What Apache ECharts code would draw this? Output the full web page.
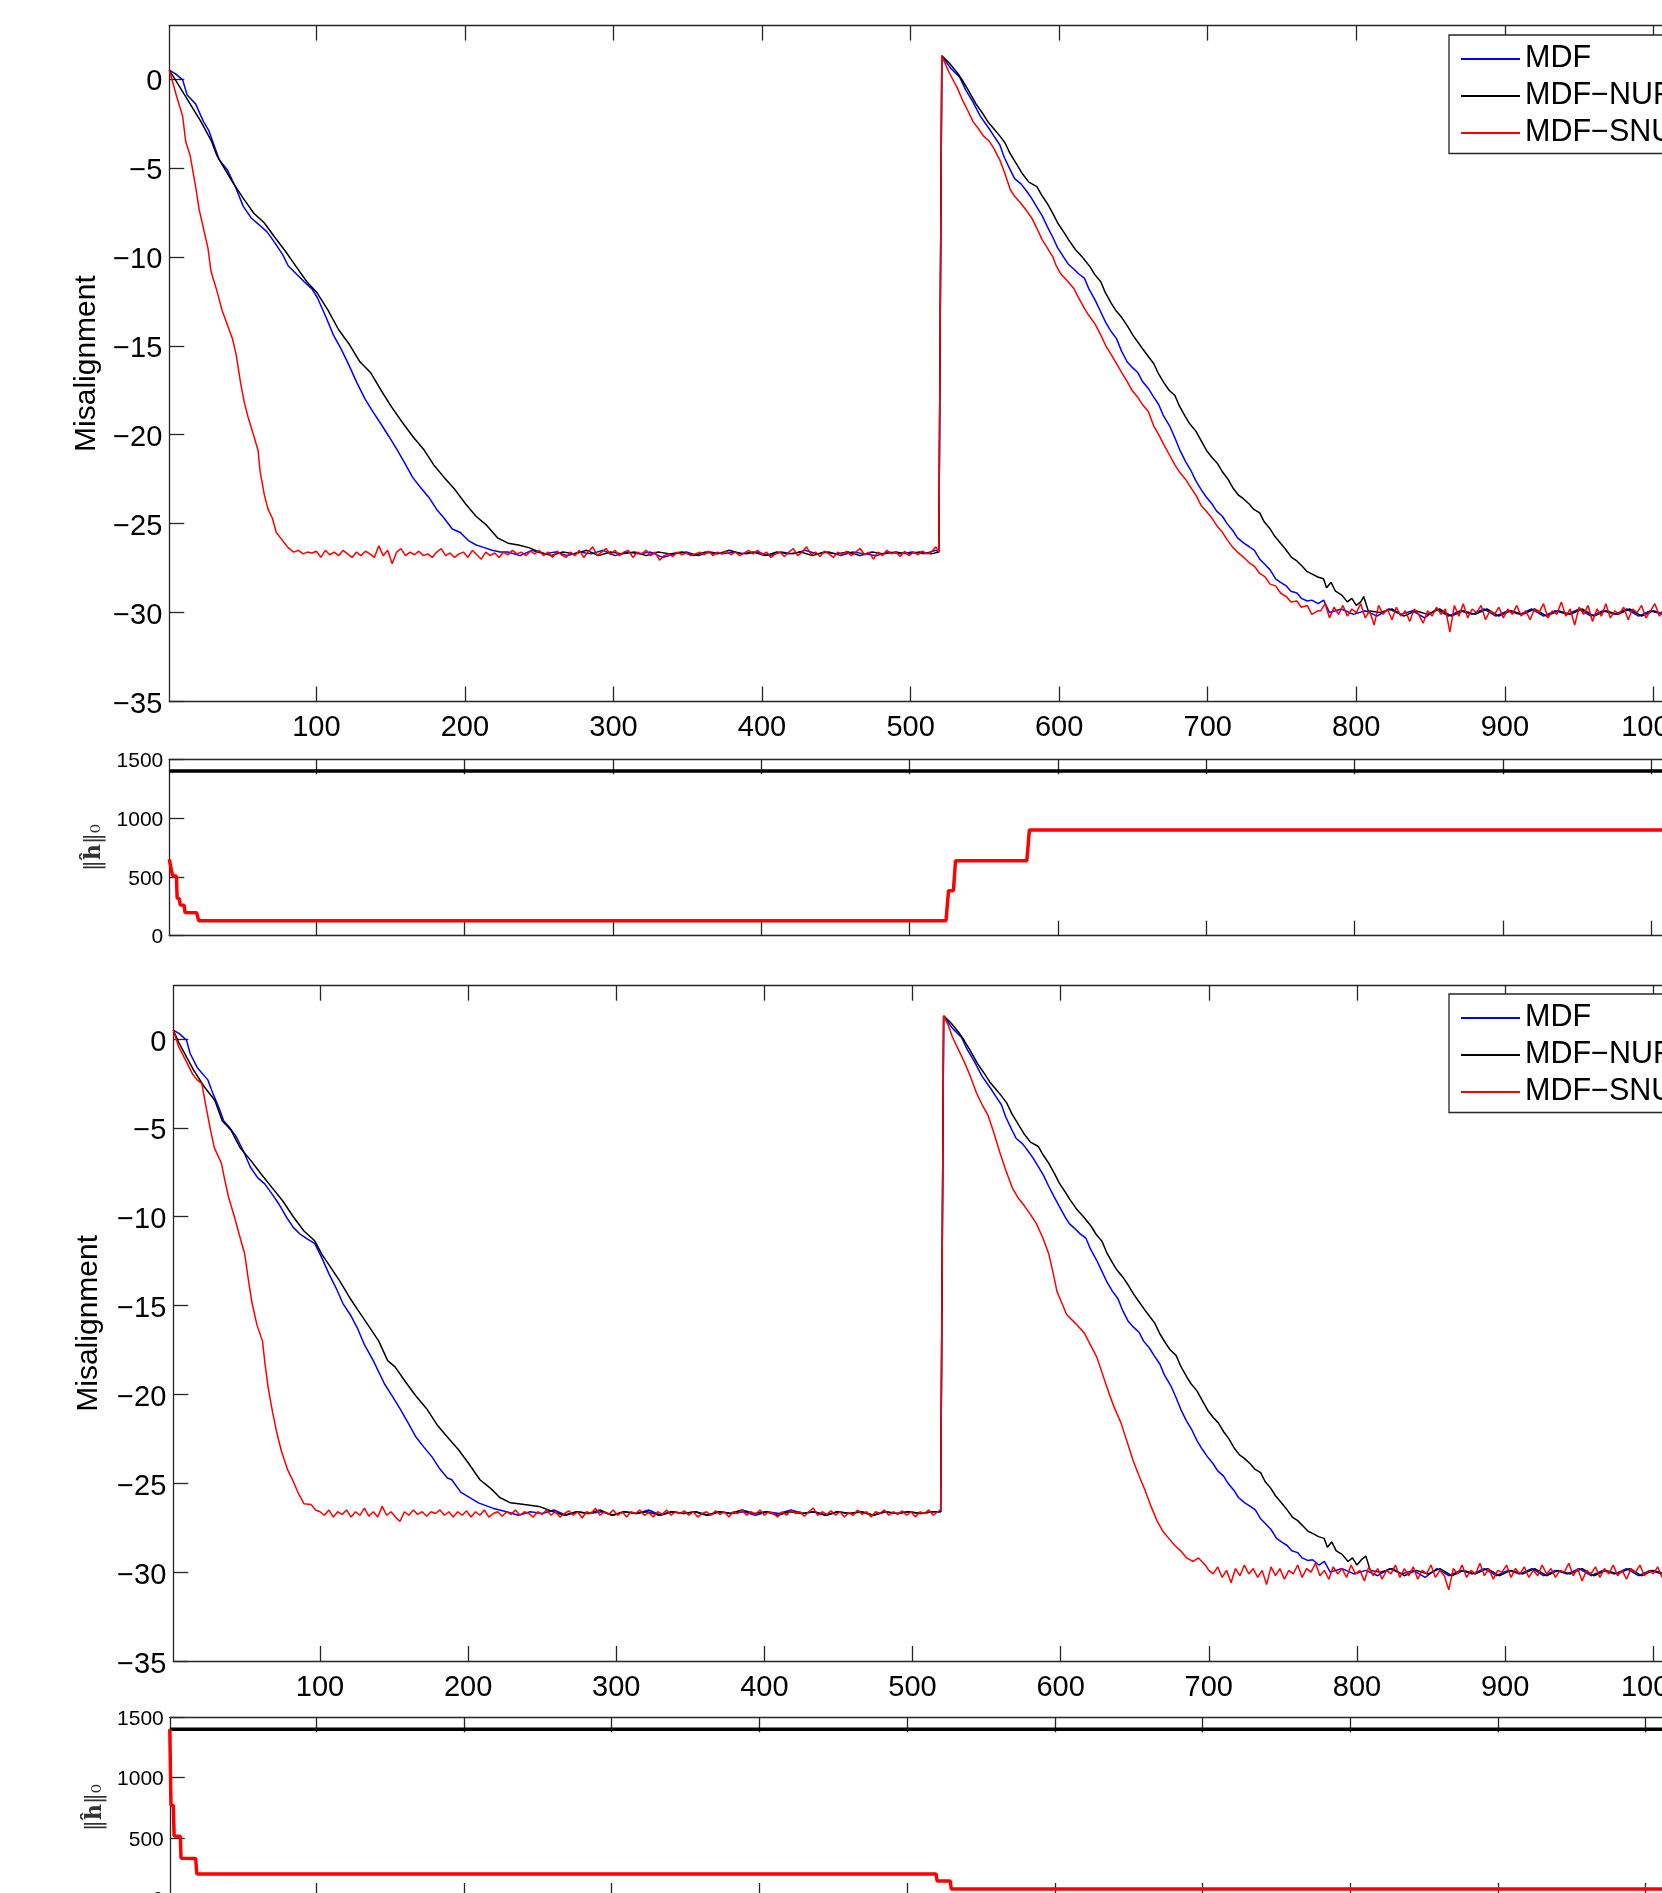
<!DOCTYPE html>
<html><head><meta charset="utf-8">
<script src="https://cdn.jsdelivr.net/npm/echarts@6/dist/echarts.min.js"></script>
<style>html,body{margin:0;padding:0;overflow:hidden;background:#fff}#c{width:1900px;height:1960px}</style>
</head><body><div id="c"></div><script>
// ---------- tick values ----------
const xTicks = [100,200,300,400,500,600,700,800,900,1000];
const misTicks = [-35,-30,-25,-20,-15,-10,-5,0];
const l0Ticks = [0,500,1000,1500];
const legendNames = ['MDF','MDF\u2212NUP','MDF\u2212SNUP'];

// ---------- panel 1 : misalignment ----------
const p1Mdf = [[1,0.5],[5,0.3],[10,-0.05],[13,-0.9],[18.7,-1.4],[24,-2.4],[27.6,-2.9],[31,-3.7],[34.7,-4.55],[40,-5.1],[45.4,-6.05],[50.7,-7.15],[56,-7.8],[61.5,-8.2],[66.8,-8.6],[72,-9.2],[77.5,-9.9],[81,-10.5],[86.4,-10.95],[91.8,-11.4],[97,-11.8],[100.7,-12.3],[106,-13.3],[111.5,-14.4],[116.8,-15.2],[122,-16.1],[127.4,-17.1],[132.8,-18.0],[138,-18.7],[143.5,-19.4],[148.8,-20.1],[154,-20.8],[159.5,-21.6],[164.8,-22.4],[170,-22.95],[175.5,-23.5],[181,-24.2],[186,-24.7],[191.5,-25.3],[196.9,-25.5],[202.3,-25.95],[207.6,-26.2],[213,-26.35],[218.3,-26.5],[223.7,-26.6],[229,-26.6],[237,-26.8],[245,-26.5],[253,-26.7],[261,-26.6],[269,-26.8],[277,-26.6],[285,-26.7],[293,-26.5],[301,-26.8],[309,-26.6],[317,-26.7],[325,-26.6],[333,-26.9],[341,-26.7],[349,-26.6],[357,-26.8],[365,-26.6],[373,-26.7],[381,-26.6],[389,-26.7],[397,-26.6],[405,-26.8],[413,-26.6],[421,-26.7],[429,-26.5],[437,-26.7],[445,-26.6],[453,-26.8],[461,-26.6],[469,-26.7],[477,-26.8],[485,-26.6],[493,-26.7],[501,-26.6],[509,-26.7],[517,-26.5],[519,-26.6],[521,1.3],[527,0.6],[533,0.1],[537,-0.6],[542,-1.3],[547,-2.1],[552.9,-2.8],[556,-3.2],[560,-3.7],[563,-4.4],[567,-5.1],[570,-5.6],[574.3,-5.9],[578,-6.3],[581.4,-6.7],[585,-7.2],[588.6,-7.7],[592,-8.3],[595.7,-8.9],[599,-9.5],[602.9,-10.0],[606,-10.4],[610,-10.7],[613,-10.95],[617,-11.2],[620,-11.8],[624.3,-12.45],[628,-13.1],[631.4,-13.7],[635,-14.2],[638.6,-14.6],[642,-15.3],[645.7,-15.9],[649,-16.2],[652.9,-16.5],[656,-17.0],[660,-17.4],[663,-17.8],[667,-18.3],[670,-18.9],[674.3,-19.5],[678,-20.2],[681.4,-20.9],[685,-21.5],[688.6,-22.0],[692,-22.6],[695.7,-23.1],[699,-23.5],[702.9,-23.9],[706,-24.3],[710,-24.6],[713,-25.0],[717,-25.4],[720,-25.8],[724.3,-26.1],[728,-26.3],[731.4,-26.5],[735,-27.0],[738.6,-27.3],[742,-27.6],[745.7,-28.1],[749,-28.3],[752.9,-28.5],[756,-28.8],[760,-28.9],[763,-29.2],[767,-29.35],[770,-29.3],[774.3,-29.5],[778,-29.3],[782,-30.0],[790,-29.8],[798,-30.1],[806,-29.9],[814,-30.2],[822,-29.8],[830,-30.1],[838,-29.9],[846,-30.3],[854,-29.8],[862,-30.2],[870,-29.9],[878,-30.1],[886,-29.8],[894,-30.2],[902,-29.9],[910,-30.1],[918,-29.8],[926,-30.2],[934,-29.9],[942,-30.1],[950,-29.8],[958,-30.2],[966,-29.9],[974,-30.1],[982,-29.8],[990,-30.2],[998,-29.9],[1006,-30.1],[1014,-29.9],[1022,-30.1],[1030,-29.9],[1038,-30.1],[1046,-30.0],[1050,-30.0]];

const p1Nup = [[1,0.5],[8,-0.45],[15,-1.4],[22.3,-2.4],[29.4,-3.5],[33,-4.3],[36.5,-4.8],[43.6,-5.8],[50.7,-6.7],[57.9,-7.55],[65,-8.1],[72,-8.9],[79.3,-9.7],[86.4,-10.55],[93.6,-11.4],[100.7,-12.05],[107.8,-13.0],[115,-14.1],[122,-14.9],[129.3,-15.9],[136.4,-16.5],[143.5,-17.5],[150.7,-18.45],[157.8,-19.3],[164.9,-20.1],[172,-20.8],[179,-21.7],[186,-22.4],[193.4,-23.1],[200.5,-23.9],[207.6,-24.6],[214.7,-25.1],[221.9,-25.8],[229,-26.1],[236,-26.2],[243,-26.35],[250.3,-26.6],[258,-26.8],[266,-26.6],[274,-26.7],[282,-26.5],[290,-26.8],[298,-26.6],[306,-26.7],[314,-26.6],[322,-26.8],[330,-26.6],[338,-26.7],[346,-26.6],[354,-26.8],[362,-26.6],[370,-26.7],[378,-26.5],[386,-26.7],[394,-26.6],[402,-26.8],[410,-26.6],[418,-26.7],[426,-26.6],[434,-26.8],[442,-26.6],[450,-26.7],[458,-26.6],[466,-26.8],[474,-26.6],[482,-26.7],[490,-26.6],[498,-26.7],[506,-26.6],[514,-26.7],[519,-26.6],[521,1.3],[526,0.9],[531.4,0.35],[535,-0.1],[538.6,-0.6],[544,-1.4],[549,-2.0],[552,-2.4],[556,-2.8],[560,-3.2],[563.6,-3.6],[567,-4.2],[570.7,-4.7],[575,-5.3],[579.6,-5.8],[585,-6.05],[588,-6.5],[592,-7.0],[596,-7.6],[599,-8.1],[603,-8.6],[606.4,-9.05],[611,-9.6],[615.4,-10.0],[620.7,-10.55],[624,-11.0],[628,-11.4],[631,-12.0],[635,-12.6],[638,-13.0],[642,-13.4],[646,-13.9],[649.6,-14.4],[653,-14.8],[656.4,-15.2],[660,-15.6],[663.6,-16.0],[667,-16.6],[670.7,-17.1],[674,-17.5],[677.9,-17.8],[681,-18.4],[685,-19.0],[688,-19.4],[692,-19.8],[696,-20.4],[699.3,-20.9],[703,-21.3],[706.4,-21.6],[710,-22.1],[713.6,-22.5],[717,-23.0],[720.7,-23.4],[724,-23.6],[727.9,-23.9],[731,-24.2],[735,-24.4],[738,-24.9],[742,-25.3],[745,-25.7],[749,-26.1],[752,-26.4],[756.4,-26.9],[760,-27.1],[763.6,-27.4],[767,-27.7],[770.7,-27.85],[774,-28.0],[777.9,-28.1],[780,-28.6],[783,-28.3],[786,-28.8],[790,-29.0],[794,-29.4],[797,-29.2],[800,-29.6],[803,-29.4],[805,-29.1],[808,-29.9],[816,-30.0],[824,-29.8],[832,-30.2],[840,-29.9],[848,-30.1],[856,-29.8],[864,-30.2],[872,-29.9],[880,-30.1],[888,-29.8],[896,-30.2],[904,-29.9],[912,-30.1],[920,-29.8],[928,-30.2],[936,-29.9],[944,-30.1],[952,-29.8],[960,-30.2],[968,-29.9],[976,-30.1],[984,-29.8],[992,-30.2],[1000,-29.9],[1008,-30.1],[1016,-29.9],[1024,-30.1],[1032,-29.9],[1040,-30.1],[1050,-30.0]];

const p1Snup = [[1,0.5],[6,-1.0],[10,-2.1],[12,-3.5],[15,-4.3],[19,-6.2],[21,-7.3],[24,-8.4],[27,-9.5],[29,-10.8],[33,-11.9],[36.5,-13.0],[40,-13.8],[43.5,-14.6],[46,-15.5],[49,-17.1],[51.5,-18.2],[54,-19.0],[58,-20.1],[60.8,-20.9],[62,-22.0],[65,-23.4],[67.5,-24.2],[70.4,-24.7],[73,-25.5],[75.8,-25.8],[78.6,-26.1],[81,-26.35],[84.7,-26.6],
[88,-26.5],[91,-26.7],[94,-26.6],[97,-26.65],[100,-26.55],[103,-26.9],[106,-26.5],[109,-26.75],[112,-26.6],[115,-26.8],[118,-26.5],[121,-26.7],[124,-26.9],[127,-26.6],[130,-26.8],[133,-26.55],[136,-26.7],[139,-26.9],[142,-26.25],[145,-26.8],[148,-26.5],[151,-27.25],[154,-26.6],[157,-26.4],[160,-26.8],[163,-26.6],[166,-26.75],[169,-26.55],[172,-26.8],[175,-26.7],[178,-26.9],[181,-26.6],[184,-26.4],[187,-26.8],[190,-26.65],[193,-26.9],[196,-26.7],[199,-26.6],[202,-26.9],[205,-26.5],[208,-26.75],[211,-27.0],[214,-26.6],[217,-26.8],[220,-26.65],[223,-26.9],[226,-26.6],[229,-26.75],[232,-26.5],[235,-26.7],[238,-26.6],[241,-26.8],[244,-26.55],[247,-26.7],[250,-26.5],[253,-26.8],[256,-26.6],[259,-26.9],[262,-26.55],[265,-26.75],[268,-26.9],[271,-26.6],[274,-26.8],[277,-26.5],[280,-26.9],[283,-26.6],[286,-26.3],[289,-26.8],[292,-26.6],[295,-26.4],[298,-26.75],[301,-26.5],[304,-26.8],[307,-26.6],[310,-26.5],[313,-26.9],[316,-26.6],[319,-26.7],[322,-26.5],[325,-26.8],[328,-26.6],[331,-27.05],[334,-26.8],[337,-26.7],[340,-26.85],[343,-26.6],[346,-26.75],[349,-26.65],[352,-26.8],[355,-26.7],[358,-26.6],[361,-26.75],[364,-26.55],[367,-26.8],[370,-26.6],[373,-26.7],[376,-26.55],[379,-26.75],[382,-26.6],[385,-26.8],[388,-26.65],[391,-26.5],[394,-26.7],[397,-26.5],[400,-26.75],[403,-26.6],[406,-26.9],[409,-26.7],[412,-26.6],[415,-26.85],[418,-26.6],[421,-26.4],[424,-26.8],[427,-26.6],[430,-26.3],[433,-26.75],[436,-26.6],[439,-26.85],[442,-26.55],[445,-26.7],[448,-26.9],[451,-26.6],[454,-26.75],[457,-26.55],[460,-26.8],[463,-26.6],[466,-26.4],[469,-26.75],[472,-26.6],[475,-27.0],[478,-26.6],[481,-26.8],[484,-26.5],[487,-26.7],[490,-26.6],[493,-26.85],[496,-26.55],[499,-26.8],[502,-26.6],[505,-26.75],[508,-26.55],[511,-26.7],[514,-26.6],[517,-26.3],[519,-26.6],
[521,1.3],[526,0.35],[531.4,-0.5],[535,-1.2],[538.6,-1.8],[542,-2.4],[545.7,-2.8],[549,-3.2],[552.9,-3.5],[556,-3.9],[560,-4.55],[563,-5.2],[567,-6.2],[570,-6.6],[574.3,-7.0],[578,-7.4],[581.4,-7.8],[585,-8.4],[588.6,-9.05],[592,-9.5],[595.7,-10.0],[598,-10.5],[601,-10.95],[605,-11.3],[610,-11.8],[613,-12.3],[617,-12.9],[620,-13.3],[624.3,-13.8],[628,-14.4],[631.4,-15.0],[635,-15.5],[638.6,-16.0],[642,-16.5],[645.7,-17.0],[649,-17.5],[652.9,-17.9],[656,-18.3],[660,-18.7],[663.6,-19.5],[667,-20.0],[670.7,-20.6],[674,-21.1],[677.9,-21.7],[681,-22.1],[685,-22.5],[688,-22.9],[692,-23.4],[695.7,-24.0],[699,-24.3],[702.9,-24.7],[706,-25.1],[710,-25.5],[713,-25.9],[717,-26.35],[720,-26.6],[724.3,-26.9],[728,-27.2],[731.4,-27.4],[735,-27.8],[738.6,-28.0],[742,-28.4],[745.7,-28.5],[749,-28.9],[752.9,-29.1],[756,-29.4],[760,-29.35],[763,-29.7],[767,-29.6],[770,-30.1],[774,-29.9],
[776,-29.9],[779,-29.5],[782,-30.3],[785,-29.7],[788,-30.1],[791,-29.6],[794,-30.2],[797,-29.8],[800,-30.0],[803,-29.5],[806,-30.3],[809,-29.9],[812,-30.7],[815,-29.6],[818,-30.1],[821,-29.8],[824,-30.4],[827,-29.7],[830,-30.2],[833,-29.9],[836,-30.5],[839,-29.8],[842,-30.1],[845,-30.6],[848,-29.9],[851,-30.2],[854,-29.7],[857,-30.1],[860,-29.8],[863,-31.1],[866,-29.6],[869,-30.2],[872,-29.5],[875,-30.3],[878,-29.8],[881,-30.0],[884,-29.6],[887,-30.4],[890,-29.9],[893,-30.1],[896,-29.7],[899,-30.3],[902,-29.8],[905,-30.1],[908,-29.6],[911,-30.2],[914,-29.9],[917,-30.4],[920,-29.8],[923,-30.0],[926,-29.5],[929,-30.3],[932,-29.9],[935,-30.1],[938,-29.4],[941,-30.2],[944,-29.8],[947,-30.7],[950,-29.7],[953,-30.1],[956,-29.6],[959,-30.5],[962,-29.8],[965,-30.2],[968,-29.5],[971,-30.3],[974,-29.9],[977,-30.1],[980,-29.7],[983,-30.4],[986,-29.8],[989,-30.0],[992,-29.6],[995,-30.3],[998,-29.9],[1001,-29.5],[1004,-30.2],[1007,-29.8],[1010,-30.1],[1013,-30.3],[1016,-29.8],[1019,-30.1],[1022,-29.6],[1025,-30.2],[1028,-29.9],[1031,-30.4],[1034,-29.8],[1037,-30.0],[1040,-29.7],[1043,-30.3],[1046,-29.9],[1050,-30.0]];

// ---------- panel 2 : ||h||_0 ----------
const p2Full = [[1,1400],[1050,1400]];
const p2Sparse = [[1,650],[2,645],[3.2,510],[5.8,505],[6.3,320],[7.8,315],[8.3,262],[11,260],[11.6,197],[19.4,196],[20.8,128],[524.6,128],[526.3,383],[529.6,383],[531,638],[579.1,638],[580.8,899],[1050,899]];

// ---------- panel 3 : misalignment ----------
const p3Mdf = [[1,0.5],[5,0.3],[9.9,-0.06],[12.3,-0.8],[17.1,-1.6],[24.3,-2.3],[27.9,-3.1],[31.5,-3.8],[35,-4.6],[38.7,-4.95],[43.5,-5.5],[48.3,-6.3],[53,-7.2],[57.9,-7.8],[62.7,-8.15],[67.5,-8.7],[72.4,-9.3],[77.2,-10.0],[82,-10.6],[86.8,-11.0],[91.6,-11.26],[96.4,-11.5],[101.2,-12.3],[106,-13.2],[110.8,-14.0],[115.6,-14.9],[120.4,-15.5],[125.2,-16.25],[130,-17.2],[136,-18.1],[143.5,-19.4],[148.8,-20.1],[154,-20.8],[159.5,-21.6],[164.8,-22.4],[170,-22.95],[175.5,-23.5],[181,-24.2],[186,-24.7],[189,-24.8],[195,-25.5],[200,-25.75],[207,-26.1],[216.6,-26.4],[226,-26.6],[234,-26.8],[242,-26.6],[250,-26.7],[258,-26.5],[266,-26.8],[274,-26.6],[282,-26.7],[290,-26.6],[298,-26.8],[306,-26.6],[314,-26.7],[322,-26.5],[330,-26.8],[338,-26.6],[346,-26.7],[354,-26.6],[362,-26.8],[370,-26.6],[378,-26.7],[386,-26.6],[394,-26.8],[402,-26.6],[410,-26.7],[418,-26.5],[426,-26.7],[434,-26.6],[442,-26.8],[450,-26.6],[458,-26.7],[466,-26.6],[474,-26.8],[482,-26.6],[490,-26.7],[498,-26.6],[506,-26.7],[514,-26.6],[519,-26.6],[521,1.3],[527,0.6],[533,0.1],[537,-0.6],[542,-1.3],[547,-2.1],[552.9,-2.8],[556,-3.2],[560,-3.7],[563,-4.4],[567,-5.1],[570,-5.6],[574.3,-5.9],[578,-6.3],[581.4,-6.7],[585,-7.2],[588.6,-7.7],[592,-8.3],[595.7,-8.9],[599,-9.4],[602.9,-10.0],[606,-10.4],[610,-10.7],[613,-10.95],[617,-11.2],[620,-11.8],[624.3,-12.45],[628,-13.1],[631.4,-13.7],[635,-14.2],[638.6,-14.6],[642,-15.3],[645.7,-15.9],[649,-16.2],[652.9,-16.5],[656,-17.0],[660,-17.4],[663,-17.8],[667,-18.3],[670,-18.9],[674.3,-19.5],[678,-20.2],[681.4,-20.9],[685,-21.5],[688.6,-22.0],[692,-22.6],[695.7,-23.1],[699,-23.5],[702.9,-23.9],[706,-24.3],[710,-24.6],[713,-25.0],[717,-25.4],[720,-25.8],[724.3,-26.1],[728,-26.3],[731.4,-26.5],[735,-27.0],[738.6,-27.3],[742,-27.6],[745.7,-28.1],[749,-28.3],[752.9,-28.5],[756,-28.8],[760,-28.9],[763,-29.2],[767,-29.35],[770,-29.3],[774.3,-29.6],[778,-29.4],[782,-30.0],[790,-29.8],[798,-30.1],[806,-29.9],[814,-30.2],[822,-29.8],[830,-30.1],[838,-29.9],[846,-30.3],[854,-29.8],[862,-30.2],[870,-29.9],[878,-30.1],[886,-29.8],[894,-30.2],[902,-29.9],[910,-30.1],[918,-29.8],[926,-30.2],[934,-29.9],[942,-30.1],[950,-29.8],[958,-30.2],[966,-29.9],[974,-30.1],[982,-29.8],[990,-30.2],[998,-29.9],[1006,-30.1],[1014,-29.9],[1022,-30.1],[1030,-29.9],[1038,-30.1],[1046,-30.0],[1050,-30.0]];

const p3Nup = [[1,0.5],[5,-0.25],[9.9,-1.0],[14.7,-1.75],[22,-2.7],[29,-3.45],[34,-4.6],[40,-5.14],[46,-6.1],[53,-6.8],[60.3,-7.6],[67.5,-8.35],[74.8,-9.1],[82,-10.0],[89.2,-10.8],[96.4,-11.35],[101.2,-12.1],[106,-12.7],[113.2,-13.6],[120.4,-14.6],[125.2,-15.2],[132.5,-16.1],[139.7,-17.0],[145.7,-18.1],[150.7,-18.45],[157.8,-19.3],[164.9,-20.1],[172,-20.8],[179,-21.7],[186,-22.4],[193.4,-23.1],[200.5,-23.9],[208,-24.8],[215.4,-25.3],[221.4,-25.8],[228.6,-26.1],[238,-26.2],[247.8,-26.3],[257.5,-26.6],[265,-26.8],[273,-26.6],[281,-26.7],[289,-26.5],[297,-26.8],[305,-26.6],[313,-26.7],[321,-26.6],[329,-26.8],[337,-26.6],[345,-26.7],[353,-26.6],[361,-26.8],[369,-26.6],[377,-26.7],[385,-26.5],[393,-26.7],[401,-26.6],[409,-26.8],[417,-26.6],[425,-26.7],[433,-26.6],[441,-26.8],[449,-26.6],[457,-26.7],[465,-26.6],[473,-26.8],[481,-26.6],[489,-26.7],[497,-26.6],[505,-26.7],[513,-26.6],[519,-26.6],[521,1.3],[526,0.9],[531.4,0.35],[535,-0.1],[538.6,-0.6],[544,-1.4],[549,-2.0],[552,-2.4],[556,-2.8],[560,-3.2],[563.6,-3.6],[567,-4.2],[570.7,-4.7],[575,-5.3],[579.6,-5.8],[585,-6.05],[588,-6.5],[592,-7.0],[596,-7.6],[599,-8.1],[603,-8.6],[606.4,-9.05],[611,-9.6],[615.4,-10.0],[620.7,-10.55],[624,-11.0],[628,-11.4],[631,-12.0],[635,-12.6],[638,-13.0],[642,-13.4],[646,-13.9],[649.6,-14.4],[653,-14.8],[656.4,-15.2],[660,-15.6],[663.6,-16.0],[667,-16.6],[670.7,-17.1],[674,-17.5],[677.9,-17.8],[681,-18.4],[685,-19.0],[688,-19.4],[692,-19.8],[696,-20.4],[699.3,-20.9],[703,-21.3],[706.4,-21.6],[710,-22.1],[713.6,-22.5],[717,-23.0],[720.7,-23.4],[724,-23.6],[727.9,-23.9],[731,-24.2],[735,-24.4],[738,-24.9],[742,-25.3],[745,-25.7],[749,-26.1],[752,-26.4],[756.4,-26.9],[760,-27.1],[763.6,-27.4],[767,-27.7],[770.7,-27.85],[774,-28.0],[777.9,-28.1],[780,-28.6],[783,-28.3],[786,-28.8],[790,-29.0],[794,-29.4],[797,-29.2],[800,-29.6],[803,-29.3],[806,-29.1],[809,-29.9],[816,-30.0],[824,-29.8],[832,-30.2],[840,-29.9],[848,-30.1],[856,-29.8],[864,-30.2],[872,-29.9],[880,-30.1],[888,-29.8],[896,-30.2],[904,-29.9],[912,-30.1],[920,-29.8],[928,-30.2],[936,-29.9],[944,-30.1],[952,-29.8],[960,-30.2],[968,-29.9],[976,-30.1],[984,-29.8],[992,-30.2],[1000,-29.9],[1008,-30.1],[1016,-29.9],[1024,-30.1],[1032,-29.9],[1040,-30.1],[1050,-30.0]];

const p3Snup = [[1,0.5],[4.6,-0.43],[9.4,-1.2],[14.2,-2.0],[17,-2.3],[20.2,-2.5],[22.6,-3.6],[26.2,-5.15],[28.6,-6.1],[33.5,-7.0],[35.9,-8.0],[38.3,-8.9],[41.9,-9.9],[45.5,-11.0],[49.2,-12.1],[51.6,-13.5],[54,-14.8],[57.5,-16.1],[61.2,-17.0],[62.8,-18.2],[65,-19.6],[68,-21.0],[71,-22.2],[74,-23.2],[78,-24.2],[82,-24.9],[85.6,-25.6],[89.2,-26.15],[94,-26.2],[97,-26.5],[100,-26.6],
[103,-26.8],[106,-26.5],[109,-26.9],[112,-26.6],[115,-26.75],[118,-26.5],[121,-26.9],[124,-26.6],[127,-26.8],[130,-26.4],[133,-26.85],[136,-26.6],[139,-26.9],[142,-26.3],[145,-26.8],[148,-26.6],[151,-26.9],[154,-27.15],[157,-26.6],[160,-26.8],[163,-26.5],[166,-26.75],[169,-26.6],[172,-26.85],[175,-26.6],[178,-26.7],[181,-26.5],[184,-26.8],[187,-26.6],[190,-26.9],[193,-26.6],[196,-26.8],[199,-26.55],[202,-26.9],[205,-26.6],[208,-26.8],[211,-26.5],[214,-26.9],[217,-26.7],[220,-26.6],[223,-26.85],[226,-26.6],[229,-26.75],[232,-26.5],[235,-26.8],[238,-26.6],[241,-26.7],[244,-26.9],[247,-26.6],[250,-26.75],[253,-26.5],[256,-26.8],[259,-26.6],[262,-26.9],[265,-26.7],[268,-26.55],[271,-26.8],[274,-26.6],[277,-26.95],[280,-26.6],[283,-26.7],[286,-26.4],[289,-26.8],[292,-26.6],[295,-26.75],[298,-26.5],[301,-26.8],[304,-26.6],[307,-26.9],[310,-26.6],[313,-26.7],[316,-26.5],[319,-26.8],[322,-26.65],[325,-26.9],[328,-26.6],[331,-26.75],[334,-26.5],[337,-26.8],[340,-26.6],[343,-26.7],[346,-26.55],[349,-26.8],[352,-26.6],[355,-26.9],[358,-26.7],[361,-26.6],[364,-26.8],[367,-26.55],[370,-26.75],[373,-26.6],[376,-26.9],[379,-26.6],[382,-26.7],[385,-26.5],[388,-26.8],[391,-26.6],[394,-26.75],[397,-26.5],[400,-26.8],[403,-26.6],[406,-26.7],[409,-26.9],[412,-26.6],[415,-26.8],[418,-26.5],[421,-26.7],[424,-26.6],[427,-26.85],[430,-26.6],[433,-26.4],[436,-26.8],[439,-26.6],[442,-26.75],[445,-26.55],[448,-26.8],[451,-26.6],[454,-26.9],[457,-26.65],[460,-26.8],[463,-26.5],[466,-26.75],[469,-26.6],[472,-26.9],[475,-26.6],[478,-26.7],[481,-26.5],[484,-26.8],[487,-26.6],[490,-26.75],[493,-26.55],[496,-26.8],[499,-26.6],[502,-26.9],[505,-26.6],[508,-26.7],[511,-26.5],[514,-26.8],[517,-26.6],[519,-26.5],
[521,1.3],[524,0.8],[527,0.1],[531,-0.6],[535,-1.3],[539,-2.1],[543,-3.0],[547,-3.7],[551,-4.3],[555,-5.3],[559,-6.4],[563,-7.4],[567.5,-8.4],[571,-8.9],[575.6,-9.4],[579,-9.8],[583.7,-10.4],[588,-11.2],[592,-12.1],[595,-13.2],[597.5,-14.2],[601,-14.9],[604,-15.5],[610,-16.0],[616,-16.55],[620,-17.2],[624.4,-17.9],[628,-18.8],[632.5,-19.9],[636,-20.7],[640.7,-21.6],[645,-22.7],[648.8,-23.7],[653,-24.6],[657,-25.4],[661,-26.3],[665,-27.1],[669,-27.7],[673,-28.1],[677,-28.5],[681,-28.8],[685,-29.2],[689.4,-29.4],[693,-29.2],[697.6,-29.6],[700,-29.9],
[703,-30.1],[706,-29.7],[709,-30.3],[712,-29.9],[715,-30.6],[718,-29.8],[721,-30.2],[724,-29.6],[727,-30.1],[730,-29.8],[733,-30.3],[736,-29.9],[739,-30.7],[742,-29.7],[745,-30.2],[748,-29.8],[751,-30.4],[754,-29.9],[757,-30.1],[760,-29.6],[763,-30.3],[766,-29.8],[769,-30.0],[772,-29.5],[775,-30.2],[778,-29.9],[781,-30.4],[784,-29.7],[787,-30.1],[790,-29.8],[793,-30.3],[796,-29.6],[799,-30.1],[802,-29.9],[805,-30.5],[808,-29.7],[811,-30.2],[814,-29.8],[817,-30.4],[820,-29.9],[823,-30.1],[826,-29.6],[829,-30.3],[832,-29.8],[835,-30.2],[838,-29.7],[841,-30.4],[844,-29.9],[847,-30.1],[850,-29.6],[853,-30.3],[856,-29.9],[859,-30.2],[862,-31.0],[865,-29.8],[868,-30.1],[871,-29.6],[874,-30.3],[877,-29.9],[880,-30.1],[883,-29.5],[886,-30.2],[889,-29.8],[892,-30.4],[895,-29.9],[898,-30.0],[901,-29.6],[904,-30.3],[907,-29.8],[910,-30.1],[913,-29.7],[916,-30.3],[919,-29.9],[922,-30.2],[925,-29.6],[928,-30.1],[931,-29.8],[934,-30.3],[937,-29.9],[940,-30.0],[943,-29.5],[946,-30.2],[949,-29.8],[952,-30.5],[955,-29.9],[958,-30.1],[961,-29.7],[964,-30.3],[967,-29.8],[970,-30.1],[973,-29.6],[976,-30.2],[979,-29.9],[982,-30.4],[985,-29.8],[988,-30.0],[991,-29.6],[994,-30.2],[997,-29.9],[1000,-30.1],[1003,-29.7],[1006,-30.3],[1009,-29.9],[1014,-30.1],[1020,-29.8],[1026,-30.2],[1032,-29.9],[1038,-30.1],[1044,-29.8],[1050,-30.0]];

// ---------- panel 4 : ||h||_0 ----------
const p4Full = [[1,1400],[1050,1400]];
const p4Sparse = [[1,1400],[1.8,770],[3.4,770],[3.9,515],[8.1,512],[8.6,330],[18.5,328],[19.3,200],[519.6,200],[520.4,141],[529.2,141],[530,75],[1050,75]];

// ---------- build ----------
const FONT = '"Liberation Sans", Arial, Helvetica, sans-serif';
const AX = '#262626';
const minus = v => v < 0 ? '\u2212' + (-v) : String(v);
const plain = v => String(v);

const grids = [
  {left:169.3, top:25.6, width:1558.4, height:675.9},
  {left:169.3, top:759.3, width:1556.1, height:176.4},
  {left:173.3, top:985.7, width:1554.0, height:675.3},
  {left:169.8, top:1717.3, width:1549.8, height:180.7}
].map(g => Object.assign({containLabel:false, outerBoundsMode:'none'}, g));

function xPair(gi, showLabels, margin){
  const base = {type:'value', gridIndex:gi, min:1, max:1050,
    axisLine:{show:true,onZero:false,lineStyle:{color:AX,width:1.3}},
    axisTick:{show:true,inside:true,length:15,customValues:xTicks,lineStyle:{color:AX,width:1.3}},
    splitLine:{show:false}};
  return [
    Object.assign({}, base, {position:'bottom',
      axisLabel:{show:showLabels, customValues:xTicks, margin:margin, fontSize:29, fontFamily:FONT, color:'#000', formatter:plain}}),
    Object.assign({}, base, {position:'top', axisLabel:{show:false}})
  ];
}
function yPair(gi, min, max, ticks, fontSize, margin, padTop, name, nameGap, nameStyle){
  const base = {type:'value', gridIndex:gi, min:min, max:max,
    axisLine:{show:true,onZero:false,lineStyle:{color:AX,width:1.3}},
    axisTick:{show:true,inside:true,length:15,customValues:ticks,lineStyle:{color:AX,width:1.3}},
    splitLine:{show:false}};
  return [
    Object.assign({}, base, {position:'left',
      axisLabel:{show:true, customValues:ticks, margin:margin, fontSize:fontSize, fontFamily:FONT, color:'#000',
        formatter: v => '{v|' + minus(v) + '}',
        rich:{v:{fontSize:fontSize, fontFamily:FONT, color:'#000', padding:[padTop,0,0,0]}}},
      name:name, nameLocation:'middle', nameGap:nameGap, nameTextStyle:nameStyle}),
    Object.assign({}, base, {position:'right', axisLabel:{show:false}})
  ];
}
const misName = {fontSize:30, fontFamily:FONT, color:'#000'};
const hName = {color:'#333', rich:{
  a:{fontFamily:'"DejaVu Serif", "Liberation Serif", serif', fontSize:22, color:'#333'},
  b:{fontFamily:'"DejaVu Serif", "Liberation Serif", serif', fontSize:22, fontWeight:'bold', color:'#333'}
}};
const hLabel = '{a|\u2016}{b|\u0125}{a|\u2016\u2080}';

const xAxes = [].concat(xPair(0,true,12), xPair(1,false,8), xPair(2,true,12), xPair(3,false,8));
const yAxes = [].concat(
  yPair(0,-35,3,misTicks,29,7,7,'Misalignment',68,misName),
  yPair(1,0,1500,l0Ticks,21,6,4,hLabel,63,hName),
  yPair(2,-35,3,misTicks,29,7,7,'Misalignment',70,misName),
  yPair(3,0,1500,l0Ticks,21,6,4,hLabel,64,hName)
);

function line(name, data, color, gi, width){
  return {type:'line', name:name, data:data, xAxisIndex:2*gi, yAxisIndex:2*gi,
    symbol:'none', showSymbol:false, smooth:false, sampling:null, silent:true,
    lineStyle:{color:color, width:width}, itemStyle:{color:color}, emphasis:{disabled:true}};
}
const series = [
  line(legendNames[0], p1Mdf, '#0000ff', 0, 1.5),
  line(legendNames[1], p1Nup, '#000000', 0, 1.5),
  line(legendNames[2], p1Snup, '#ff0000', 0, 1.5),
  line('full1', p2Full, '#000000', 1, 3.5),
  line('sparse1', p2Sparse, '#ff0000', 1, 3.5),
  line(legendNames[0], p3Mdf, '#0000ff', 2, 1.5),
  line(legendNames[1], p3Nup, '#000000', 2, 1.5),
  line(legendNames[2], p3Snup, '#ff0000', 2, 1.5),
  line('full2', p4Full, '#000000', 3, 3.5),
  line('sparse2', p4Sparse, '#ff0000', 3, 3.5)
];
function legendAt(top){
  return {data:legendNames, orient:'vertical', left:1449, top:top,
    padding:[8.5,10,5,11], itemGap:6, itemWidth:59, itemHeight:2,
    backgroundColor:'#fff', borderColor:AX, borderWidth:1.3, borderRadius:0,
    selectedMode:false, textStyle:{fontSize:30.5, fontFamily:FONT, color:'#000'}};
}

const chart = echarts.init(document.getElementById('c'), null, {renderer:'canvas'});
chart.setOption({
  animation:false,
  backgroundColor:'#fff',
  grid:grids,
  xAxis:xAxes,
  yAxis:yAxes,
  legend:[legendAt(35), legendAt(994)],
  series:series
});
</script></body></html>
